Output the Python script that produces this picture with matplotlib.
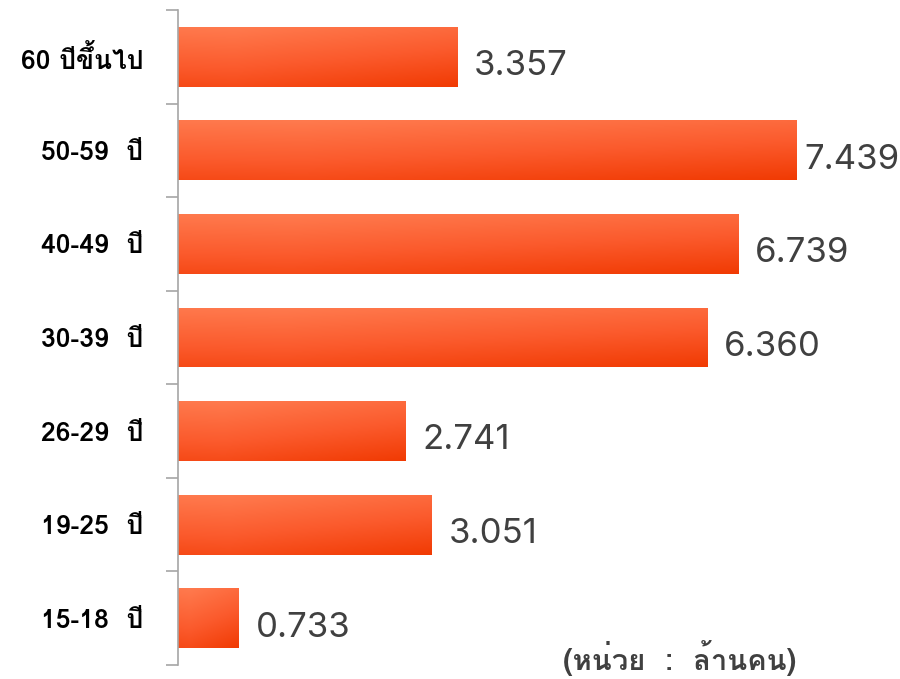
import numpy as np
import matplotlib
matplotlib.use("Agg")
import matplotlib.pyplot as plt
from matplotlib.colors import LinearSegmentedColormap

# ข้อมูล (ล้านคน)
groups = ['15-18  ปี', '19-25  ปี', '26-29  ปี', '30-39  ปี', '40-49  ปี', '50-59  ปี', '60 ปีขึ้นไป']
values = [0.733, 3.051, 2.741, 6.360, 6.739, 7.439, 3.357]
value_labels = ['0.733', '3.051', '2.741', '6.360', '6.739', '7.439', '3.357']
unit_text = '(หน่วย  :  ล้านคน)'

thai = ['Loma', 'DejaVu Sans']

fig = plt.figure(figsize=(9, 6.79), dpi=100)
ax = fig.add_axes([178 / 900, 14 / 679, 1 - 178 / 900, 655 / 679])

cmap = LinearSegmentedColormap.from_list('bar', ['#ff7a4e', '#fb5a2c', '#f03800'])
y = np.arange(len(groups))
bars = ax.barh(y, values, height=0.64, color='none', edgecolor='none')
g = np.linspace(0, 1, 80)
gx, gy = np.meshgrid(g, g)
shade = np.clip(0.72 * gy + 0.3 * (gx - 0.2) + 0.08 * np.clip(0.2 - gx, 0, 1) / 0.2, 0, 1)
for b in bars:
    x0, y0 = b.get_x(), b.get_y()
    w, h = b.get_width(), b.get_height()
    img = ax.imshow(shade, cmap=cmap, vmin=0, vmax=1,
                    extent=[x0, x0 + w, y0, y0 + h], origin='upper',
                    aspect='auto', interpolation='bilinear', zorder=2)
    img.set_clip_path(b)

ax.set_xlim(0, 8.68)
ax.set_ylim(-0.5, len(groups) - 0.5)

fig.canvas.draw()
r = fig.canvas.get_renderer()
inv = ax.transData.inverted()
for yi, v, lab in zip(y, values, value_labels):
    t = ax.text(v + 0.2, yi - 0.1, lab, va='center', ha='left', fontsize=25,
                color='#404040', family=['Inter', 'DejaVu Sans'])
    bb = t.get_window_extent(r)
    if bb.x1 > 900:
        dx = inv.transform((bb.x1, 0))[0] - inv.transform((900, 0))[0]
        t.set_x(v + 0.2 - dx)

ax.set_yticks(y)
ax.set_yticklabels(groups, fontsize=19, fontweight='bold', family=thai)
ax.set_yticks(np.arange(-0.5, len(groups)), minor=True)
ax.tick_params(axis='y', which='major', length=0, pad=25)
ax.tick_params(axis='y', which='minor', length=9, color='#a6a6a6', width=1.2)
ax.set_xticks([])
for s in ['top', 'right', 'bottom']:
    ax.spines[s].set_visible(False)
ax.spines['left'].set_color('#a6a6a6')
ax.spines['left'].set_linewidth(1.2)

fig.text(680 / 900, 1 - 658 / 679, unit_text, ha='center', va='center',
         fontsize=21, fontweight='bold', color='#404040', family=thai)

fig.savefig('out.png', dpi=100)
